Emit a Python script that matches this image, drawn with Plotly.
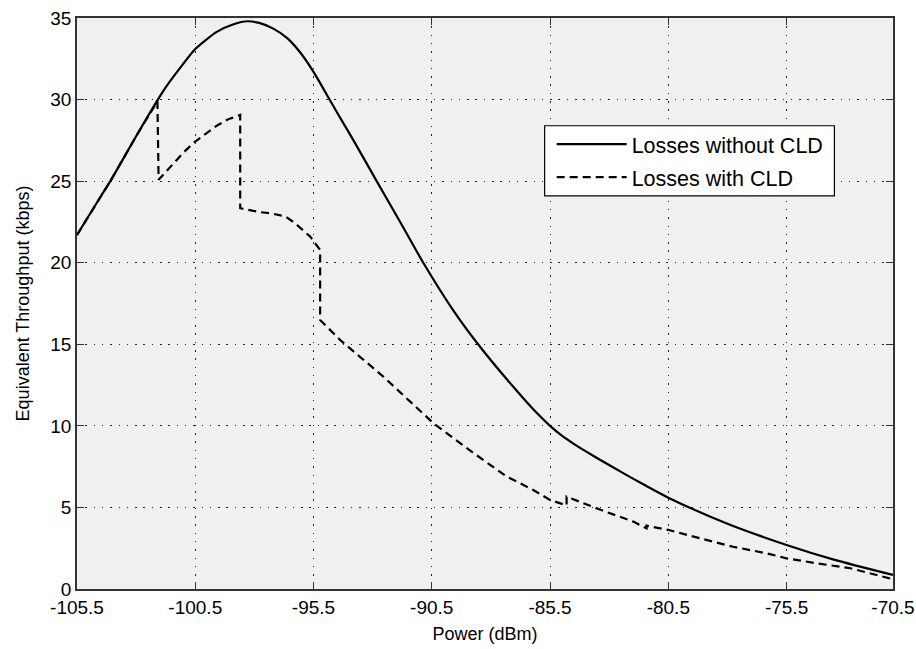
import plotly.graph_objects as go

# Solid curve: losses without CLD
x_solid = [-105.5, -104.5, -104.09, -103.0, -102.1, -101.7, -101.0, -100.5, -99.59, -98.88,
           -98.3, -97.8, -97.2, -96.6, -96.07, -95.5, -94.94, -94.4, -93.81, -92.83,
           -91.8, -90.86, -89.6, -88.46, -87.0, -86.2, -85.5, -85.0, -84.5, -84.0,
           -83.3, -82.5, -81.5, -80.5, -78.0, -75.5, -73.5, -71.0]
y_solid = [21.7, 24.06, 25.0, 27.75, 29.95, 30.85, 32.2, 33.1, 34.15, 34.62,
           34.8, 34.7, 34.35, 33.75, 32.9, 31.7, 30.3, 28.95, 27.5, 25.0,
           22.4, 20.0, 17.1, 14.85, 12.3, 11.0, 10.0, 9.4, 8.9, 8.45,
           7.85, 7.18, 6.37, 5.6, 4.0, 2.70, 1.8, 0.86]

# Dashed curve: losses with CLD
x_dash = [-105.5, -104.5, -104.09, -103.0, -102.1, -102.05, -101.49, -101.0, -100.57, -100.0,
          -99.59, -99.1, -98.6, -98.6, -97.76, -97.33, -96.7, -96.28, -95.64, -95.22,
          -95.22, -94.38, -92.55, -90.43, -88.8, -87.33, -86.21, -85.5, -84.8, -84.8,
          -83.34, -81.98, -81.42, -81.42, -80.5, -79.17, -77.76, -76.35, -75.5, -74.24,
          -72.8, -71.0]
y_dash = [21.7, 24.06, 25.0, 27.75, 29.9, 25.08, 25.95, 26.75, 27.35, 27.95,
          28.4, 28.8, 29.06, 23.34, 23.1, 23.03, 22.85, 22.42, 21.6, 20.78,
          16.49, 15.27, 13.02, 10.16, 8.4, 6.89, 6.07, 5.46, 5.12, 5.66,
          4.84, 4.13, 3.72, 3.88, 3.62, 3.11, 2.59, 2.19, 1.88, 1.58,
          1.27, 0.6]

x_tick_vals = [-105.5, -100.5, -95.5, -90.5, -85.5, -80.5, -75.5, -71.0]
x_tick_text = ["-105.5", "-100.5", "-95.5", "-90.5", "-85.5", "-80.5", "-75.5", "-70.5"]
y_tick_vals = [0, 5, 10, 15, 20, 25, 30, 35]

FONT = "Liberation Sans, Arial, sans-serif"

fig = go.Figure()
fig.add_trace(go.Scatter(x=x_solid, y=y_solid, mode="lines", name="Losses without CLD",
                         legendgroup="a",
                         line=dict(color="black", width=2.2, shape="spline", smoothing=0.7)))
fig.add_trace(go.Scatter(x=x_dash, y=y_dash, mode="lines", name="Losses with CLD",
                         legendgroup="b",
                         line=dict(color="black", width=2.2, dash="8px,5px")))

axis_common = dict(
    showline=True, linecolor="#333333", linewidth=1.5, mirror="ticks",
    ticks="inside", ticklen=7, tickwidth=1, tickcolor="#333333",
    showgrid=True, gridcolor="#222222", gridwidth=1, griddash="1.5px,6.8px",
    zeroline=False, tickfont=dict(family=FONT, size=19, color="black"),
)

fig.update_xaxes(range=[-105.5, -71.0], tickvals=x_tick_vals, ticktext=x_tick_text,
                 title=dict(text="Power (dBm)", font=dict(family=FONT, size=18, color="black"),
                            standoff=11),
                 **axis_common)
fig.update_yaxes(range=[0, 35], tickvals=y_tick_vals,
                 title=dict(text="Equivalent Throughput (kbps)",
                            font=dict(family=FONT, size=18, color="black"), standoff=16),
                 **axis_common)

# legend frame (white box with black border) drawn as a shape
fig.add_shape(type="rect", xref="paper", yref="paper",
              x0=0.5731, x1=0.9282, y0=0.6886, y1=0.8113,
              fillcolor="white", line=dict(color="black", width=1.2), layer="above")

fig.update_layout(
    width=916, height=649,
    margin=dict(l=77, r=23, t=18, b=60, autoexpand=False),
    plot_bgcolor="#f0f0f0", paper_bgcolor="white",
    showlegend=True,
    legend=dict(x=0.5817, y=0.8148, xanchor="left", yanchor="top",
                bgcolor="rgba(0,0,0,0)", borderwidth=0,
                font=dict(family=FONT, size=21.5, color="black"),
                itemwidth=70, tracegroupgap=2),
)

fig.write_html("out.html", config={"displayModeBar": False},
               post_script="document.body.style.margin='0';")
